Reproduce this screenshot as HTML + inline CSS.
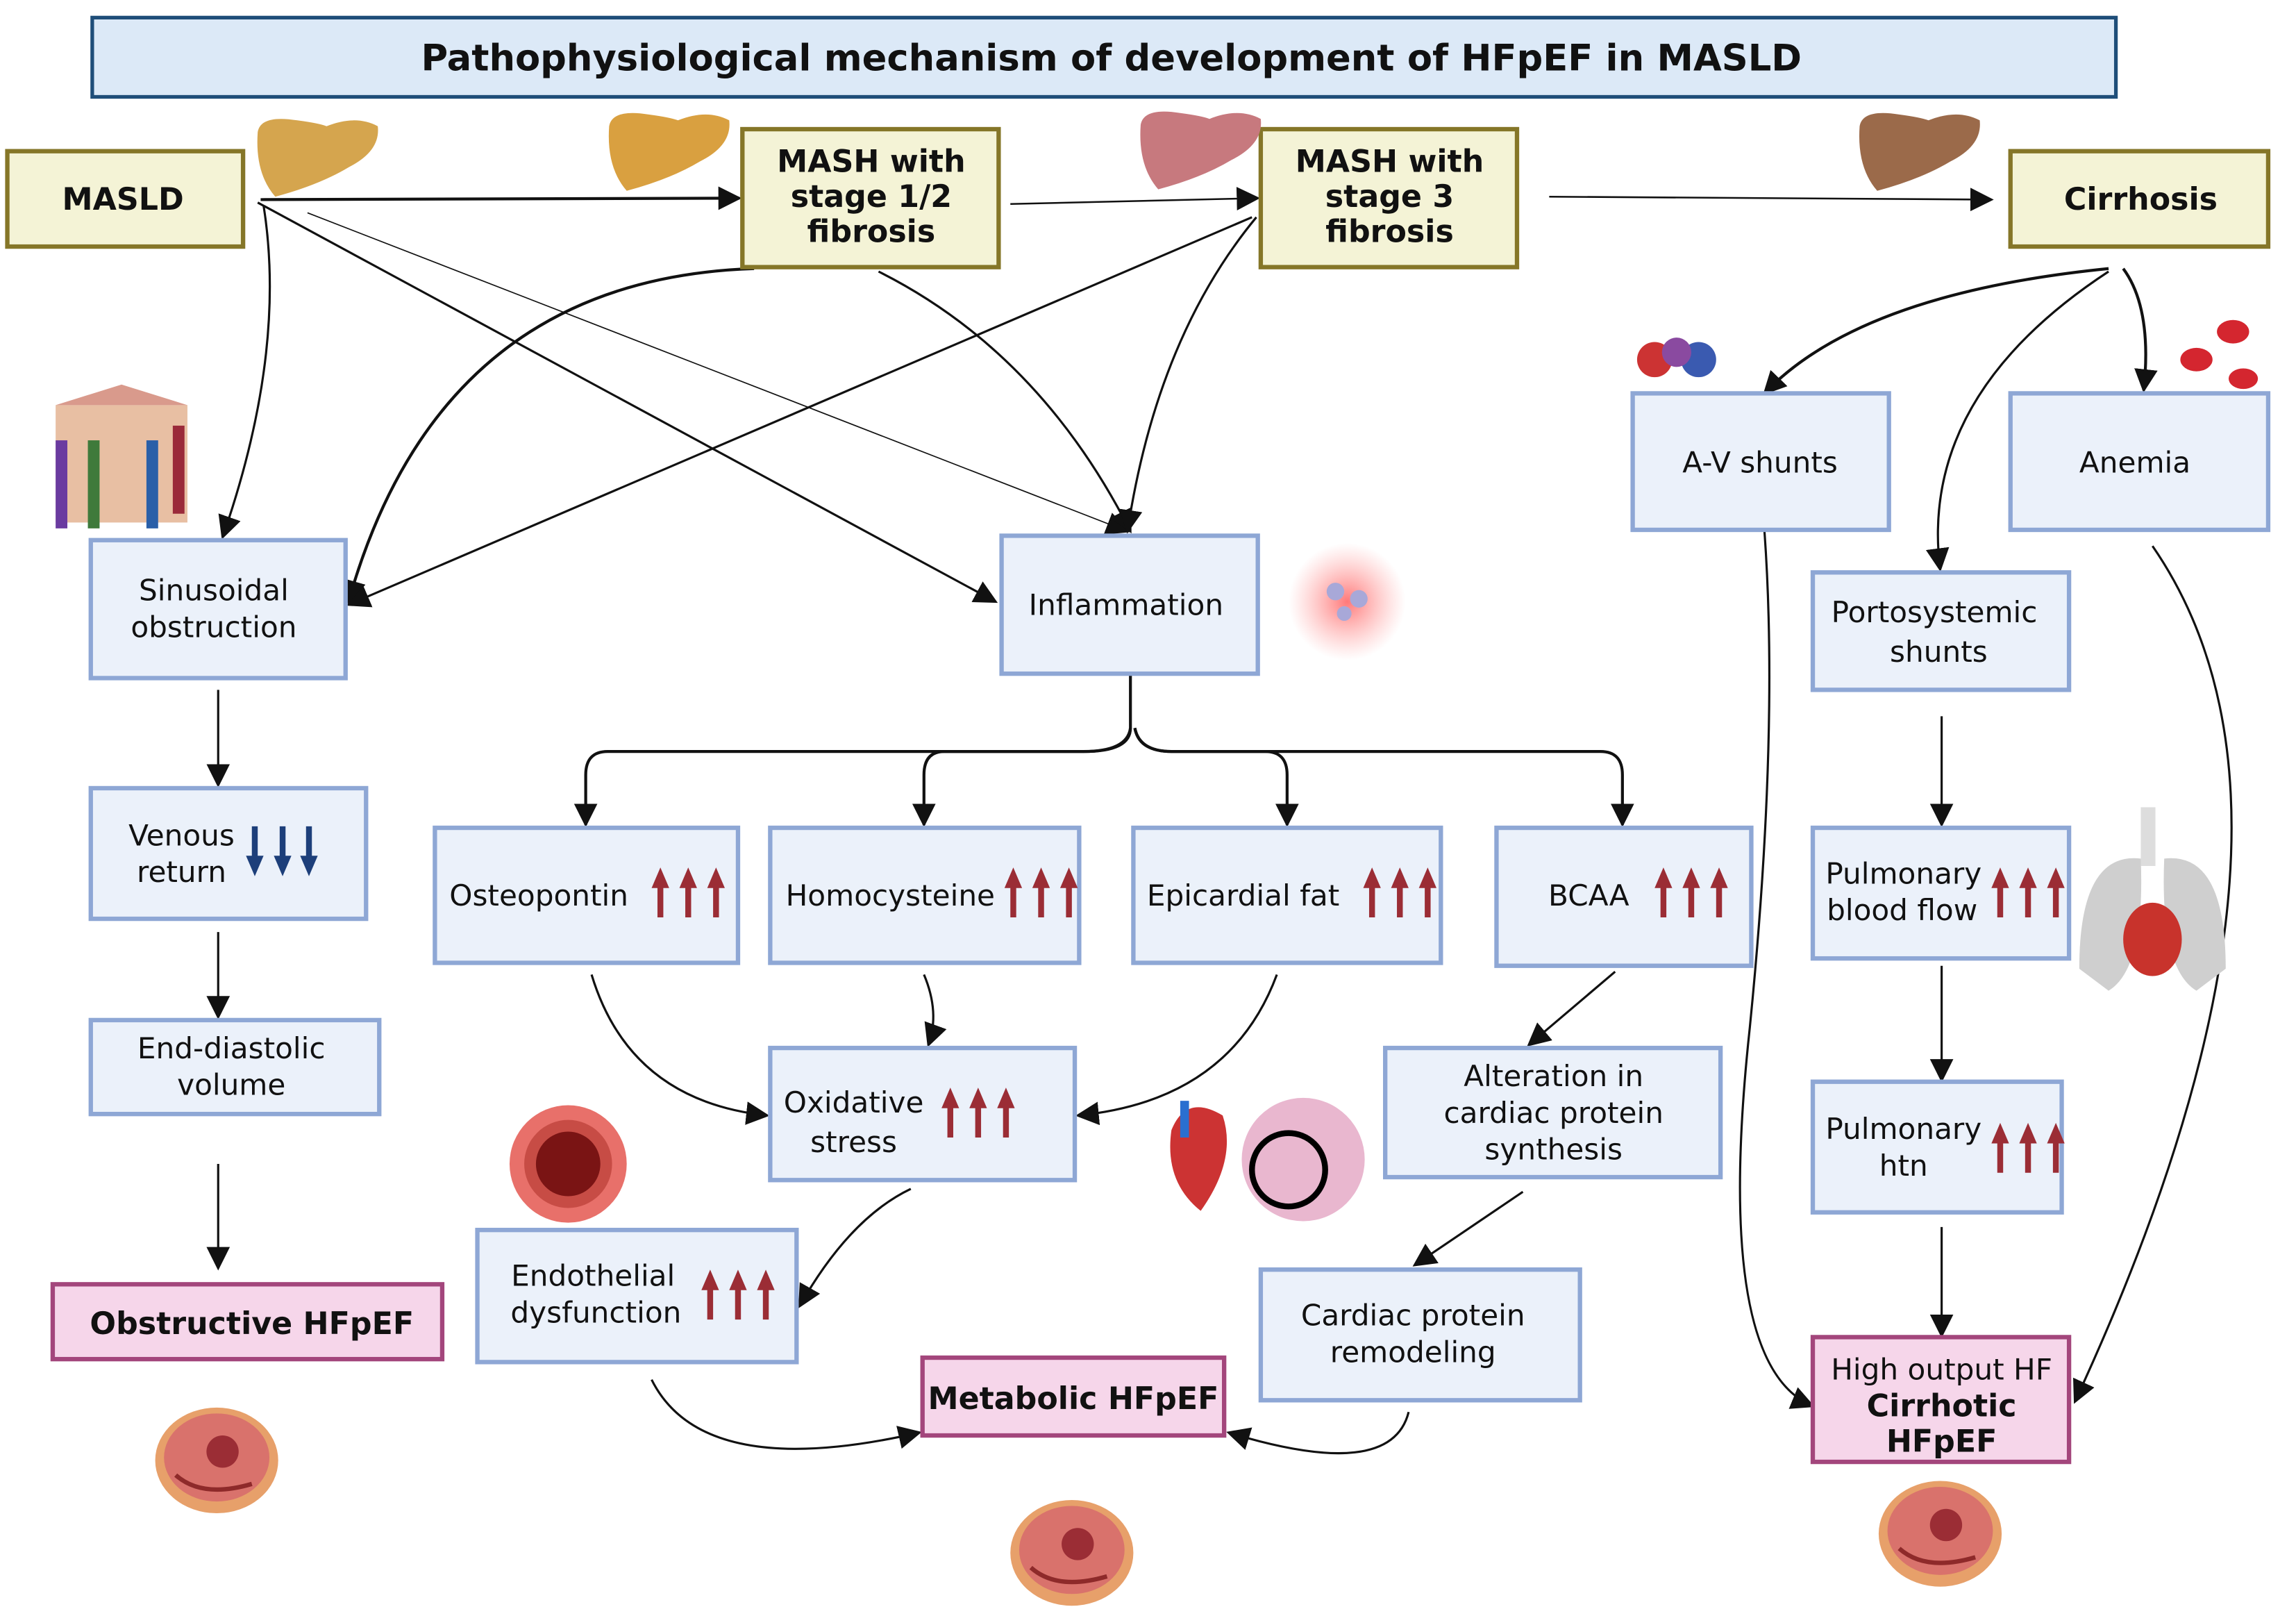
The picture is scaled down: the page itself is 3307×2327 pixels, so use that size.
<!DOCTYPE html>
<html><head><meta charset="utf-8"><style>
html,body{margin:0;padding:0;background:#fff;}
svg{display:block;}
text{font-family:"DejaVu Sans","Liberation Sans",sans-serif;fill:#111;}
</style></head><body>
<svg width="3307" height="2327" viewBox="0 0 1568 1101" preserveAspectRatio="none" xmlns="http://www.w3.org/2000/svg">
<defs>
<marker id="A" viewBox="0 0 10 10" refX="9" refY="5" markerWidth="16" markerHeight="16" orient="auto" markerUnits="userSpaceOnUse"><path d="M0,0 L10,5 L0,10 z" fill="#111"/></marker>
<radialGradient id="glow"><stop offset="0" stop-color="#ff6a6a" stop-opacity=".9"/><stop offset="1" stop-color="#ff9a9a" stop-opacity="0"/></radialGradient>
<g id="up"><path d="M-6,-3 L0,-17 L6,-3 L2,-3 L2,17 L-2,17 L-2,-3z" fill="#9b2d35"/></g>
<g id="dn"><path d="M-6,3 L0,17 L6,3 L2,3 L2,-17 L-2,-17 L-2,3z" fill="#1d3f7a"/></g>
<g id="heart"><ellipse cx="0" cy="0" rx="42" ry="36" fill="#e7a06a"/><ellipse cx="0" cy="-2" rx="36" ry="30" fill="#d9726c"/><circle cx="4" cy="-6" r="11" fill="#9b2d35"/><path d="M-28,10 Q-10,26 24,16" stroke="#8e2a2a" stroke-width="3" fill="none"/></g>
<g id="liver"><path d="M-42,-18 Q-40,-30 -15,-26 Q0,-24 5,-22 Q25,-30 40,-22 Q42,-5 20,6 Q0,18 -30,26 Q-44,10 -42,-18z"/></g>
</defs>

<rect x="63" y="12" width="1382" height="54" fill="#dce9f7" stroke="#1f4e79" stroke-width="2.5"/>
<text x="759" y="48" font-size="25" font-weight="bold" text-anchor="middle">Pathophysiological mechanism of development of HFpEF in MASLD</text>

<g fill="none" stroke="#111">
<path d="M178,136 L505,135" marker-end="url(#A)" stroke-width="2"/>
<path d="M690,139 L859,135" marker-end="url(#A)" stroke-width="1.2"/>
<path d="M1058,134 L1360,136" marker-end="url(#A)" stroke-width="1.2"/>
<path d="M180,140 Q196,240 152,366" marker-end="url(#A)" stroke-width="1.5"/>
<path d="M176,138 L680,410" marker-end="url(#A)" stroke-width="1.5"/>
<path d="M210,145 L770,362" marker-end="url(#A)" stroke-width="0.8"/>
<path d="M515,183 Q300,190 238,410" marker-end="url(#A)" stroke-width="2"/>
<path d="M600,185 Q710,240 772,362" marker-end="url(#A)" stroke-width="1.5"/>
<path d="M855,148 L238,412" marker-end="url(#A)" stroke-width="1.5"/>
<path d="M858,148 Q790,230 770,362" marker-end="url(#A)" stroke-width="1.5"/>
<path d="M1440,183 Q1270,200 1205,268" marker-end="url(#A)" stroke-width="2"/>
<path d="M1450,183 Q1470,210 1464,266" marker-end="url(#A)" stroke-width="2"/>
<path d="M1440,185 Q1310,270 1325,388" marker-end="url(#A)" stroke-width="1.5"/>
<path d="M1205,362 Q1215,500 1195,700 Q1170,930 1238,958" marker-end="url(#A)" stroke-width="1.5"/>
<path d="M1470,372 Q1600,560 1417,955" marker-end="url(#A)" stroke-width="1.5"/>
<path d="M1326,488 L1326,562" marker-end="url(#A)" stroke-width="1.5"/>
<path d="M1326,658 L1326,736" marker-end="url(#A)" stroke-width="1.5"/>
<path d="M1326,836 L1326,910" marker-end="url(#A)" stroke-width="1.5"/>
<path d="M149,470 L149,535" marker-end="url(#A)" stroke-width="1.5"/>
<path d="M149,635 L149,693" marker-end="url(#A)" stroke-width="1.5"/>
<path d="M149,793 L149,864" marker-end="url(#A)" stroke-width="1.5"/>
<path d="M772,460 L772,496 Q772,512 740,512 L415,512 Q400,512 400,528 L400,562" marker-end="url(#A)" stroke-width="2"/>
<path d="M772,496 Q770,512 740,512 L645,512 Q631,512 631,528 L631,562" marker-end="url(#A)" stroke-width="2"/>
<path d="M775,496 Q778,512 800,512 L864,512 Q879,512 879,528 L879,562" marker-end="url(#A)" stroke-width="2"/>
<path d="M775,496 Q778,512 800,512 L1093,512 Q1108,512 1108,528 L1108,562" marker-end="url(#A)" stroke-width="2"/>
<path d="M404,664 Q430,750 524,760" marker-end="url(#A)" stroke-width="1.5"/>
<path d="M631,664 Q642,690 634,712" marker-end="url(#A)" stroke-width="1.5"/>
<path d="M872,664 Q840,750 736,760" marker-end="url(#A)" stroke-width="1.5"/>
<path d="M1103,662 L1044,712" marker-end="url(#A)" stroke-width="1.5"/>
<path d="M1040,812 L966,862" marker-end="url(#A)" stroke-width="1.5"/>
<path d="M622,810 Q580,830 546,890" marker-end="url(#A)" stroke-width="1.5"/>
<path d="M445,940 Q480,1010 628,976" marker-end="url(#A)" stroke-width="1.5"/>
<path d="M962,962 Q950,1010 839,976" marker-end="url(#A)" stroke-width="1.5"/>
</g>

<g fill="#f4f3d6" stroke="#857628" stroke-width="3">
<rect x="5" y="103" width="161" height="65"/>
<rect x="507" y="88" width="175" height="94"/>
<rect x="861" y="88" width="175" height="94"/>
<rect x="1373" y="103" width="176" height="65"/>
</g>
<g font-size="21" font-weight="bold" text-anchor="middle">
<text x="84" y="143">MASLD</text>
<text x="595" y="117">MASH with</text><text x="595" y="141">stage 1/2</text><text x="595" y="165">fibrosis</text>
<text x="949" y="117">MASH with</text><text x="949" y="141">stage 3</text><text x="949" y="165">fibrosis</text>
<text x="1462" y="143">Cirrhosis</text>
</g>

<g fill="#ebf1fa" stroke="#8ea7d5" stroke-width="3">
<rect x="62" y="368" width="174" height="94"/>
<rect x="684" y="365" width="175" height="94"/>
<rect x="1115" y="268" width="175" height="93"/>
<rect x="1373" y="268" width="176" height="93"/>
<rect x="1238" y="390" width="175" height="80"/>
<rect x="62" y="537" width="188" height="89"/>
<rect x="62" y="695" width="197" height="64"/>
<rect x="297" y="564" width="207" height="92"/>
<rect x="526" y="564" width="211" height="92"/>
<rect x="774" y="564" width="210" height="92"/>
<rect x="1022" y="564" width="174" height="94"/>
<rect x="1238" y="564" width="175" height="89"/>
<rect x="526" y="714" width="208" height="90"/>
<rect x="946" y="714" width="229" height="88"/>
<rect x="1238" y="737" width="170" height="89"/>
<rect x="326" y="838" width="218" height="90"/>
<rect x="861" y="865" width="218" height="89"/>
</g>
<g fill="#f6d6ea" stroke="#a3467c" stroke-width="3">
<rect x="36" y="875" width="266" height="51"/>
<rect x="630" y="925" width="206" height="53"/>
<rect x="1238" y="911" width="175" height="85"/>
</g>

<g font-size="20" text-anchor="middle">
<text x="146" y="409">Sinusoidal</text><text x="146" y="434">obstruction</text>
<text x="769" y="419">Inflammation</text>
<text x="1202" y="322">A-V shunts</text>
<text x="1458" y="322">Anemia</text>
<text x="1321" y="424">Portosystemic</text><text x="1324" y="451">shunts</text>
<text x="124" y="576">Venous</text><text x="124" y="601">return</text>
<text x="158" y="721">End-diastolic</text><text x="158" y="746">volume</text>
<text x="368" y="617">Osteopontin</text>
<text x="608" y="617">Homocysteine</text>
<text x="849" y="617">Epicardial fat</text>
<text x="1085" y="617">BCAA</text>
<text x="1300" y="602">Pulmonary</text><text x="1299" y="627">blood flow</text>
<text x="583" y="758">Oxidative</text><text x="583" y="785">stress</text>
<text x="1061" y="740">Alteration in</text><text x="1061" y="765">cardiac protein</text><text x="1061" y="790">synthesis</text>
<text x="1300" y="776">Pulmonary</text><text x="1300" y="801">htn</text>
<text x="405" y="876">Endothelial</text><text x="407" y="901">dysfunction</text>
<text x="965" y="903">Cardiac protein</text><text x="965" y="928">remodeling</text>
<text x="1326" y="940">High output HF</text>
</g>
<g font-size="21" font-weight="bold" text-anchor="middle">
<text x="172" y="909">Obstructive HFpEF</text>
<text x="733" y="960">Metabolic HFpEF</text>
<text x="1326" y="965">Cirrhotic</text><text x="1326" y="989">HFpEF</text>
</g>

<g>
<use href="#dn" x="174" y="580"/><use href="#dn" x="193" y="580"/><use href="#dn" x="211" y="580"/>
<use href="#up" x="451" y="608"/><use href="#up" x="470" y="608"/><use href="#up" x="489" y="608"/>
<use href="#up" x="692" y="608"/><use href="#up" x="711" y="608"/><use href="#up" x="730" y="608"/>
<use href="#up" x="937" y="608"/><use href="#up" x="956" y="608"/><use href="#up" x="975" y="608"/>
<use href="#up" x="1136" y="608"/><use href="#up" x="1155" y="608"/><use href="#up" x="1174" y="608"/>
<use href="#up" x="1366" y="608"/><use href="#up" x="1385" y="608"/><use href="#up" x="1404" y="608"/>
<use href="#up" x="649" y="758"/><use href="#up" x="668" y="758"/><use href="#up" x="687" y="758"/>
<use href="#up" x="1366" y="782"/><use href="#up" x="1385" y="782"/><use href="#up" x="1404" y="782"/>
<use href="#up" x="485" y="882"/><use href="#up" x="504" y="882"/><use href="#up" x="523" y="882"/>
</g>

<g fill="#d5a54e"><use href="#liver" x="218" y="108"/></g>
<g fill="#d9a040"><use href="#liver" x="458" y="104"/></g>
<g fill="#c7797e"><use href="#liver" x="821" y="103"/></g>
<g fill="#9b6a4a"><use href="#liver" x="1312" y="104"/></g>
<g>
<rect x="38" y="276" width="90" height="80" fill="#e8bfa3"/>
<path d="M38,276 L83,262 L128,276" fill="#d99a8c"/>
<rect x="38" y="300" width="8" height="60" fill="#6a3ba0"/><rect x="60" y="300" width="8" height="60" fill="#3f7a3b"/><rect x="100" y="300" width="8" height="60" fill="#2a5fa8"/><rect x="118" y="290" width="8" height="60" fill="#9a2a3a"/>
</g>
<g><circle cx="1130" cy="245" r="12" fill="#c33"/><circle cx="1160" cy="245" r="12" fill="#3a5ab0"/><circle cx="1145" cy="240" r="10" fill="#8a4aa0"/></g>
<g fill="#d4262f"><ellipse cx="1525" cy="226" rx="11" ry="8"/><ellipse cx="1500" cy="245" rx="11" ry="8"/><ellipse cx="1532" cy="258" rx="10" ry="7"/></g>
<circle cx="920" cy="410" r="40" fill="url(#glow)"/>
<g fill="#a8a8d8"><circle cx="912" cy="403" r="6"/><circle cx="928" cy="408" r="6"/><circle cx="918" cy="418" r="5"/></g>
<circle cx="388" cy="793" r="40" fill="#e8706a"/><circle cx="388" cy="793" r="30" fill="#c74c45"/><circle cx="388" cy="793" r="22" fill="#7a1414"/>
<g><path d="M800,770 Q810,745 835,760 Q845,790 820,825 Q795,805 800,770z" fill="#c33"/><rect x="806" y="750" width="6" height="25" fill="#2a6fd0"/></g>
<circle cx="890" cy="790" r="42" fill="#e9b7cf"/><circle cx="880" cy="797" r="25" fill="none" stroke="#000" stroke-width="4"/>
<g><path d="M1420,660 Q1420,580 1462,585 Q1465,660 1440,675z" fill="#cfcfcf"/><path d="M1520,660 Q1520,580 1478,585 Q1475,660 1500,675z" fill="#cfcfcf"/><rect x="1462" y="550" width="10" height="40" fill="#ddd"/><ellipse cx="1470" cy="640" rx="20" ry="25" fill="#c8332c"/></g>
<use href="#heart" x="148" y="995"/>
<use href="#heart" x="732" y="1058"/>
<use href="#heart" x="1325" y="1045"/>
</svg>
</body></html>
